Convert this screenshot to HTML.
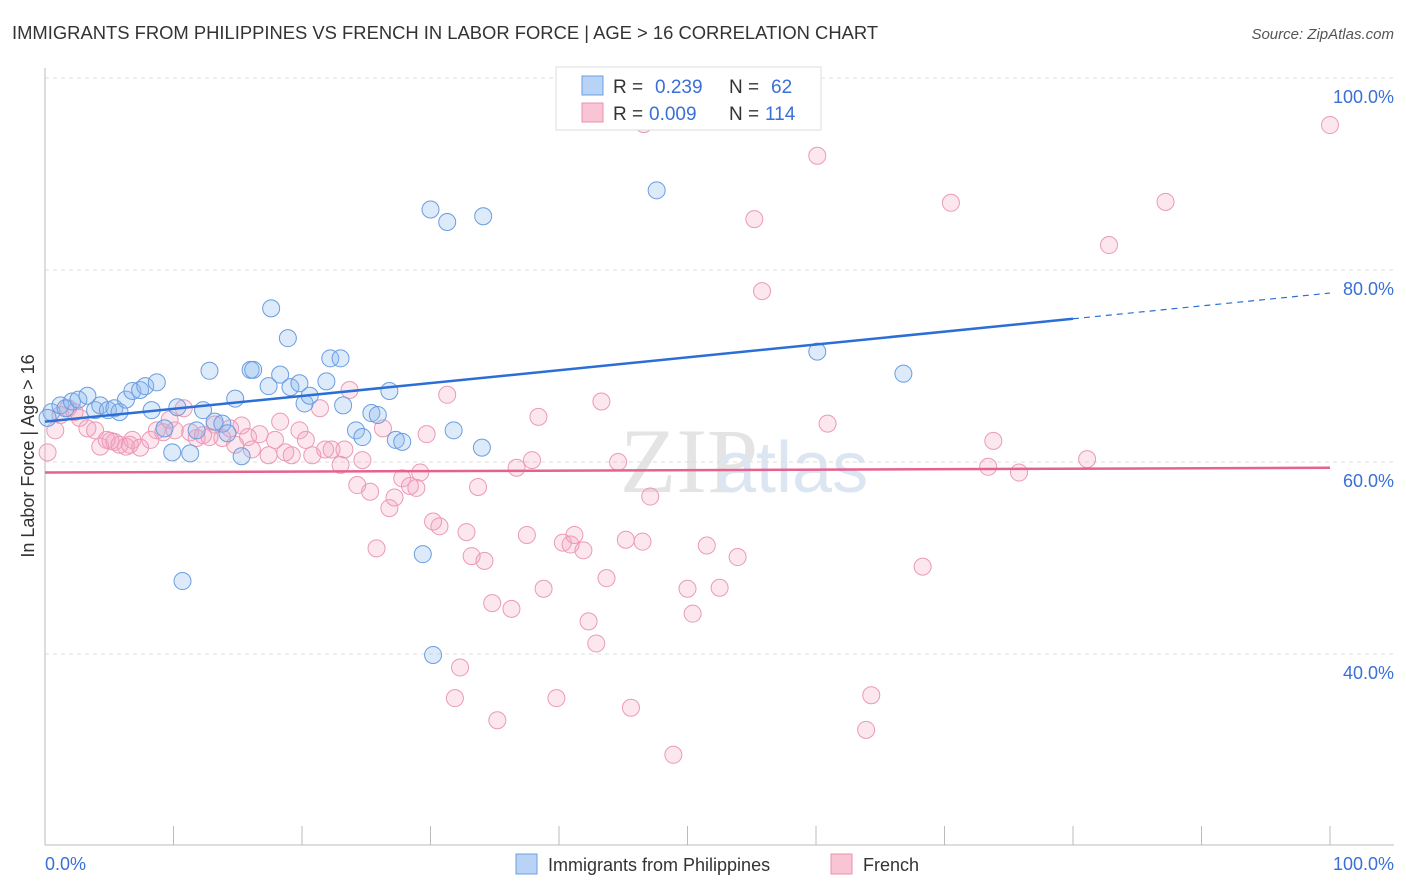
<!DOCTYPE html>
<html><head><meta charset="utf-8"><style>
body{margin:0;background:#fff;font-family:"Liberation Sans",sans-serif}
svg{display:block}
</style></head><body>
<svg id="chart" width="1406" height="892" xmlns="http://www.w3.org/2000/svg" font-family="Liberation Sans, sans-serif">
<text x="12" y="39" font-size="18.4" fill="#333">IMMIGRANTS FROM PHILIPPINES VS FRENCH IN LABOR FORCE | AGE &gt; 16 CORRELATION CHART</text>
<text x="1394" y="39" font-size="15" fill="#555" font-style="italic" text-anchor="end">Source: ZipAtlas.com</text>
<text x="620" y="492" font-size="92" fill="#e4e4e4" font-family="Liberation Serif, serif">ZIP</text>
<text x="716" y="492" font-size="72" fill="#dce6f2">atlas</text>
<g id="grid"></g>
<line x1="45" y1="68" x2="45" y2="845" stroke="#bbb"/>
<line x1="45" y1="845" x2="1394" y2="845" stroke="#bbb"/>
<g id="xticks"></g>
<text x="45" y="870" font-size="18" fill="#3a6fd8">0.0%</text>
<text x="1394" y="870" font-size="18" fill="#3a6fd8" text-anchor="end">100.0%</text>
<text transform="translate(34,456) rotate(-90)" font-size="18" fill="#333" text-anchor="middle">In Labor Force | Age &gt; 16</text>
<g id="pinkpts"></g><g id="bluepts"></g><g id="lines"></g>
<g>
<rect x="556" y="67" width="265" height="63" fill="#fff" stroke="#ddd"/>
<rect x="582" y="76" width="21" height="19" fill="#b8d3f5" stroke="#6a9fe0"/>
<rect x="582" y="103" width="21" height="19" fill="#f9c5d5" stroke="#e891ad"/>
<text x="613" y="93" font-size="19" fill="#333">R =</text>
<text x="655" y="93" font-size="19" fill="#3a6fd8">0.239</text>
<text x="729" y="93" font-size="19" fill="#333">N =</text>
<text x="771" y="93" font-size="19" fill="#3a6fd8">62</text>
<text x="613" y="120" font-size="19" fill="#333">R =</text>
<text x="649" y="120" font-size="19" fill="#3a6fd8">0.009</text>
<text x="729" y="120" font-size="19" fill="#333">N =</text>
<text x="765" y="120" font-size="19" fill="#3a6fd8">114</text>
</g>
<g>
<rect x="516" y="854" width="21" height="20" fill="#b8d3f5" stroke="#6a9fe0"/>
<text x="548" y="871" font-size="18" fill="#333">Immigrants from Philippines</text>
<rect x="831" y="854" width="21" height="20" fill="#f9c5d5" stroke="#e891ad"/>
<text x="863" y="871" font-size="18" fill="#333">French</text>
</g>
</svg>
<script>
const yTicks=[100,80,60,40];
const blueX=[0.5,1.2,1.6,2.1,2.6,3.3,3.9,4.3,4.9,5.4,5.8,6.3,6.8,7.4,7.8,8.7,8.3,9.3,9.9,10.3,10.7,11.3,11.8,12.3,12.8,13.2,13.8,14.2,14.8,15.3,16.0,16.2,17.4,17.6,18.3,18.9,19.1,19.8,20.2,20.6,21.9,22.2,23.0,23.2,24.2,24.7,25.4,25.9,26.8,27.3,27.8,29.4,30.0,30.2,31.3,31.8,34.0,34.1,47.6,60.1,66.8,0.2];
const blueY=[65.2,65.9,65.6,66.3,66.5,66.9,65.4,65.9,65.4,65.6,65.2,66.5,67.4,67.5,67.9,68.3,65.4,63.5,61.0,65.7,47.6,60.9,63.3,65.4,69.5,64.2,64.0,63.0,66.6,60.6,69.6,69.6,67.9,76.0,69.1,72.9,67.8,68.2,66.1,66.9,68.4,70.8,70.8,65.9,63.3,62.6,65.1,64.9,67.4,62.3,62.1,50.4,86.3,39.9,85.0,63.3,61.5,85.6,88.3,71.5,69.2,64.6];
const pinkX=[0.2,0.8,1.2,1.8,2.3,2.7,3.3,3.9,4.3,4.8,5.4,5.8,6.3,6.8,7.4,8.2,8.7,9.2,9.7,10.1,10.8,11.3,11.8,12.3,12.8,13.2,13.8,14.4,14.8,15.3,15.8,16.1,16.7,17.4,17.9,18.3,18.7,19.2,19.8,20.3,20.8,21.4,21.8,22.3,23.0,23.3,23.7,24.3,24.7,25.3,25.8,26.3,26.8,27.2,27.8,28.4,28.9,29.2,29.7,30.2,30.7,31.3,31.9,32.3,32.8,33.2,33.7,34.2,34.8,35.2,36.3,36.7,37.5,37.9,38.4,38.8,39.8,40.3,40.9,41.2,41.9,42.3,42.9,43.3,43.7,44.6,45.2,45.6,46.5,46.6,47.1,48.9,50.0,50.4,51.5,52.5,53.9,55.2,55.8,60.1,60.9,63.9,64.3,68.3,70.5,73.4,73.8,75.8,81.1,82.8,87.2,100,5.1,6.6];
const pinkY=[61.0,63.3,64.9,65.6,65.2,64.6,63.5,63.3,61.6,62.3,62.1,61.8,61.6,62.3,61.5,62.3,63.3,63.1,64.4,63.3,65.6,63.1,62.5,62.8,62.6,63.9,62.5,63.5,61.8,63.8,62.6,61.3,62.9,60.7,62.3,64.2,61.0,60.7,63.3,62.3,60.7,65.6,61.3,61.3,59.7,61.3,67.5,57.6,60.2,56.9,51.0,63.5,55.2,56.3,58.3,57.5,57.3,58.9,62.9,53.8,53.3,67.0,35.4,38.6,52.7,50.2,57.4,49.7,45.3,33.1,44.7,59.4,52.4,60.2,64.7,46.8,35.4,51.6,51.4,52.4,50.8,43.4,41.1,66.3,47.9,60.0,51.9,34.4,51.7,95.2,56.4,29.5,46.8,44.2,51.3,46.9,50.1,85.3,77.8,91.9,64.0,32.1,35.7,49.1,87.0,59.5,62.2,58.9,60.3,82.6,87.1,95.1,62.2,61.8];
const blueFit=[64.2,77.6];
const pinkFit=[58.9,59.4];
const NS='http://www.w3.org/2000/svg';
const xs=v=>45+v*12.85;
const ys=v=>78+(100-v)*9.6;
function mk(tag,attrs,parent){const e=document.createElementNS(NS,tag);for(const k in attrs)e.setAttribute(k,attrs[k]);parent.appendChild(e);return e;}
const grid=document.getElementById('grid');
yTicks.forEach(t=>{
  const l=mk('line',{x1:45,x2:1394,y1:ys(t),y2:ys(t),stroke:'#ddd','stroke-dasharray':'4,4'},grid);
  
  
  const tx=mk('text',{x:1394,y:ys(t)+25,'font-size':18,fill:'#3a6fd8','text-anchor':'end'},grid);
  tx.textContent=t.toFixed(1)+'%';
  
  
});
const xt=document.getElementById('xticks');
for(let i=0;i<=10;i++){
  const l=mk('line',{x1:xs(i*10),x2:xs(i*10),y1:826,y2:845,stroke:'#bbb'},xt);
  
  
}
const pg=document.getElementById('pinkpts');
pinkX.forEach((x,i)=>{
  const c=mk('circle',{cx:xs(x),cy:ys(pinkY[i]),r:8.5,fill:'rgba(244,160,190,0.25)',stroke:'#eb9ab5','stroke-width':1},pg);
  
  
});
const bg=document.getElementById('bluepts');
blueX.forEach((x,i)=>{
  const c=mk('circle',{cx:xs(x),cy:ys(blueY[i]),r:8.5,fill:'rgba(140,185,240,0.3)',stroke:'#6a9de0','stroke-width':1},bg);
  
  
});
const lg=document.getElementById('lines');
const bAt=v=>blueFit[0]+(blueFit[1]-blueFit[0])*v/100;
const b1=mk('line',{x1:xs(0),y1:ys(bAt(0)),x2:xs(80),y2:ys(bAt(80)),stroke:'#2b6fd6','stroke-width':2.5},lg);


const b2=mk('line',{x1:xs(80),y1:ys(bAt(80)),x2:xs(100),y2:ys(bAt(100)),stroke:'#2b6fd6','stroke-width':1.2,'stroke-dasharray':'6,5'},lg);


const p1=mk('line',{x1:xs(0),y1:ys(pinkFit[0]),x2:xs(100),y2:ys(pinkFit[1]),stroke:'#e5628d','stroke-width':2.5},lg);


</script>
</body></html>
